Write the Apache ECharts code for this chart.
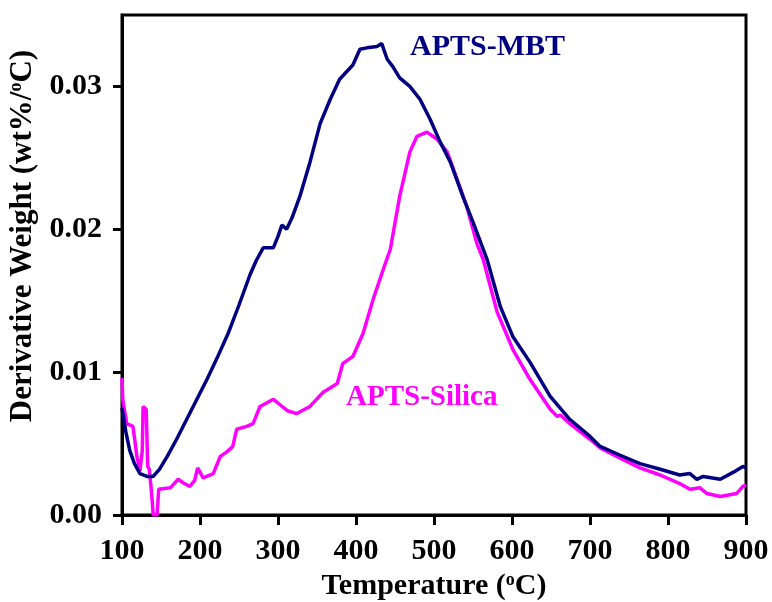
<!DOCTYPE html>
<html>
<head>
<meta charset="utf-8">
<title>DTG curves</title>
<script src="https://cdn.jsdelivr.net/npm/echarts@6/dist/echarts.min.js"></script>
<style>
  html, body { margin: 0; padding: 0; background: #fff; }
  #chart { width: 772px; height: 602px; }
</style>
</head>
<body>
<div id="chart"></div>
<script>
// Derivative weight curves (wt%/°C) against temperature (°C)
const mbtTemp = [100, 105, 110, 116, 123, 132, 140, 148, 158, 170, 183, 196, 209, 222, 236, 250, 264, 272, 281, 294, 300, 305, 311, 318, 328, 341, 354, 367, 379, 396, 405, 414, 427, 433, 440, 447, 456, 469, 482, 495, 508, 521, 537, 550, 568, 585, 601, 623, 649, 674, 700, 713, 738, 764, 790, 815, 828, 837, 845, 867, 884, 896, 900];
const mbtWeight = [0.0075, 0.0058, 0.0045, 0.0036, 0.0029, 0.0027, 0.0027, 0.0032, 0.0041, 0.0053, 0.0067, 0.0081, 0.0095, 0.0110, 0.0127, 0.0147, 0.0168, 0.0178, 0.0187, 0.0187, 0.0195, 0.0203, 0.0200, 0.0208, 0.0223, 0.0247, 0.0274, 0.0291, 0.0305, 0.0315, 0.0326, 0.0327, 0.0328, 0.0330, 0.0319, 0.0314, 0.0306, 0.0300, 0.0291, 0.0277, 0.0261, 0.0247, 0.0223, 0.0205, 0.0179, 0.0146, 0.0125, 0.0107, 0.0083, 0.0067, 0.0055, 0.0048, 0.0042, 0.0036, 0.0032, 0.0028, 0.0029, 0.0025, 0.0027, 0.0025, 0.0030, 0.0034, 0.0033];

const silicaTemp = [100, 101, 106, 114, 117, 119, 123, 126, 127, 131, 133, 135, 138, 140, 145, 147, 149, 162, 172, 180, 187, 193, 197, 204, 217, 226, 234, 242, 247, 260, 268, 277, 294, 303, 312, 324, 341, 358, 376, 383, 396, 409, 422, 435, 444, 456, 469, 478, 491, 504, 517, 525, 542, 555, 563, 581, 601, 623, 649, 658, 662, 674, 700, 713, 738, 764, 790, 815, 828, 841, 850, 867, 888, 896, 900];
const silicaWeight = [0.0096, 0.0081, 0.0064, 0.0062, 0.0050, 0.0041, 0.0031, 0.0045, 0.0076, 0.0074, 0.0034, 0.0032, 0.0015, 0.0000, 0.0000, 0.0018, 0.0018, 0.0019, 0.0025, 0.0022, 0.0020, 0.0024, 0.0033, 0.0026, 0.0029, 0.0041, 0.0044, 0.0048, 0.0060, 0.0062, 0.0064, 0.0076, 0.0081, 0.0077, 0.0073, 0.0071, 0.0076, 0.0086, 0.0092, 0.0106, 0.0111, 0.0127, 0.0151, 0.0172, 0.0186, 0.0223, 0.0254, 0.0265, 0.0268, 0.0263, 0.0254, 0.0242, 0.0216, 0.0190, 0.0179, 0.0142, 0.0116, 0.0095, 0.0074, 0.0069, 0.0070, 0.0064, 0.0053, 0.0047, 0.0040, 0.0033, 0.0028, 0.0022, 0.0018, 0.0019, 0.0015, 0.0013, 0.0015, 0.0020, 0.0021];

const yTickValues = [0, 0.01, 0.02, 0.03];
const seriesNames = ['APTS-MBT', 'APTS-Silica'];

const FONT = '"Liberation Serif", "Times New Roman", serif';
const pairs = (xs, ys) => xs.map((x, i) => [x, ys[i]]);

const supStyle = { fontFamily: FONT, fontWeight: 'bold', fontSize: 18, color: '#000', verticalAlign: 'top', padding: [0, 0, 12, 0] };

const chart = echarts.init(document.getElementById('chart'), null, { renderer: 'canvas' });

chart.setOption({
  backgroundColor: '#ffffff',
  animation: false,
  grid: {
    left: 122, right: 26, top: 15, bottom: 87,
    outerBoundsMode: 'none',
    show: true, borderColor: '#000', borderWidth: 3
  },
  xAxis: {
    type: 'value',
    min: 100, max: 900, interval: 100,
    name: 'Temperature ({sup|o}C)',
    nameLocation: 'middle',
    nameGap: 50,
    nameTextStyle: {
      fontFamily: FONT, fontWeight: 'bold', fontSize: 30, color: '#000',
      rich: { sup: supStyle }
    },
    axisLine: { onZero: false, lineStyle: { color: '#000', width: 3 } },
    axisTick: { inside: false, length: 10, lineStyle: { color: '#000', width: 3 } },
    axisLabel: { fontFamily: FONT, fontWeight: 'bold', fontSize: 30, color: '#000', margin: 21 },
    splitLine: { show: false }
  },
  yAxis: {
    type: 'value',
    min: 0, max: 0.035,
    name: 'Derivative Weight (wt%/{sup|o}C)',
    nameLocation: 'middle',
    nameGap: 80,
    nameTextStyle: {
      fontFamily: FONT, fontWeight: 'bold', fontSize: 31, color: '#000',
      padding: [0, 0, 0, 58],
      rich: { sup: supStyle }
    },
    axisLine: { onZero: false, lineStyle: { color: '#000', width: 3 } },
    axisTick: { inside: false, length: 9, customValues: yTickValues, lineStyle: { color: '#000', width: 3 } },
    axisLabel: {
      customValues: yTickValues,
      fontFamily: FONT, fontWeight: 'bold', fontSize: 30, color: '#000', margin: 20,
      formatter: v => v.toFixed(2)
    },
    splitLine: { show: false }
  },
  series: [
    {
      name: seriesNames[0],
      type: 'line',
      data: pairs(mbtTemp, mbtWeight),
      showSymbol: false,
      lineStyle: { color: '#000080', width: 3.5 },
      z: 3
    },
    {
      name: seriesNames[1],
      type: 'line',
      data: pairs(silicaTemp, silicaWeight),
      showSymbol: false,
      lineStyle: { color: '#ff00ff', width: 3.5 },
      z: 2
    }
  ],
  graphic: [
    {
      type: 'text', left: 410, top: 32,
      style: { text: seriesNames[0], font: 'bold 30px ' + FONT, fill: '#000080' }
    },
    {
      type: 'text', left: 346, top: 383,
      style: { text: seriesNames[1], font: 'bold 29px ' + FONT, fill: '#ff00ff' }
    }
  ]
});
</script>
</body>
</html>
